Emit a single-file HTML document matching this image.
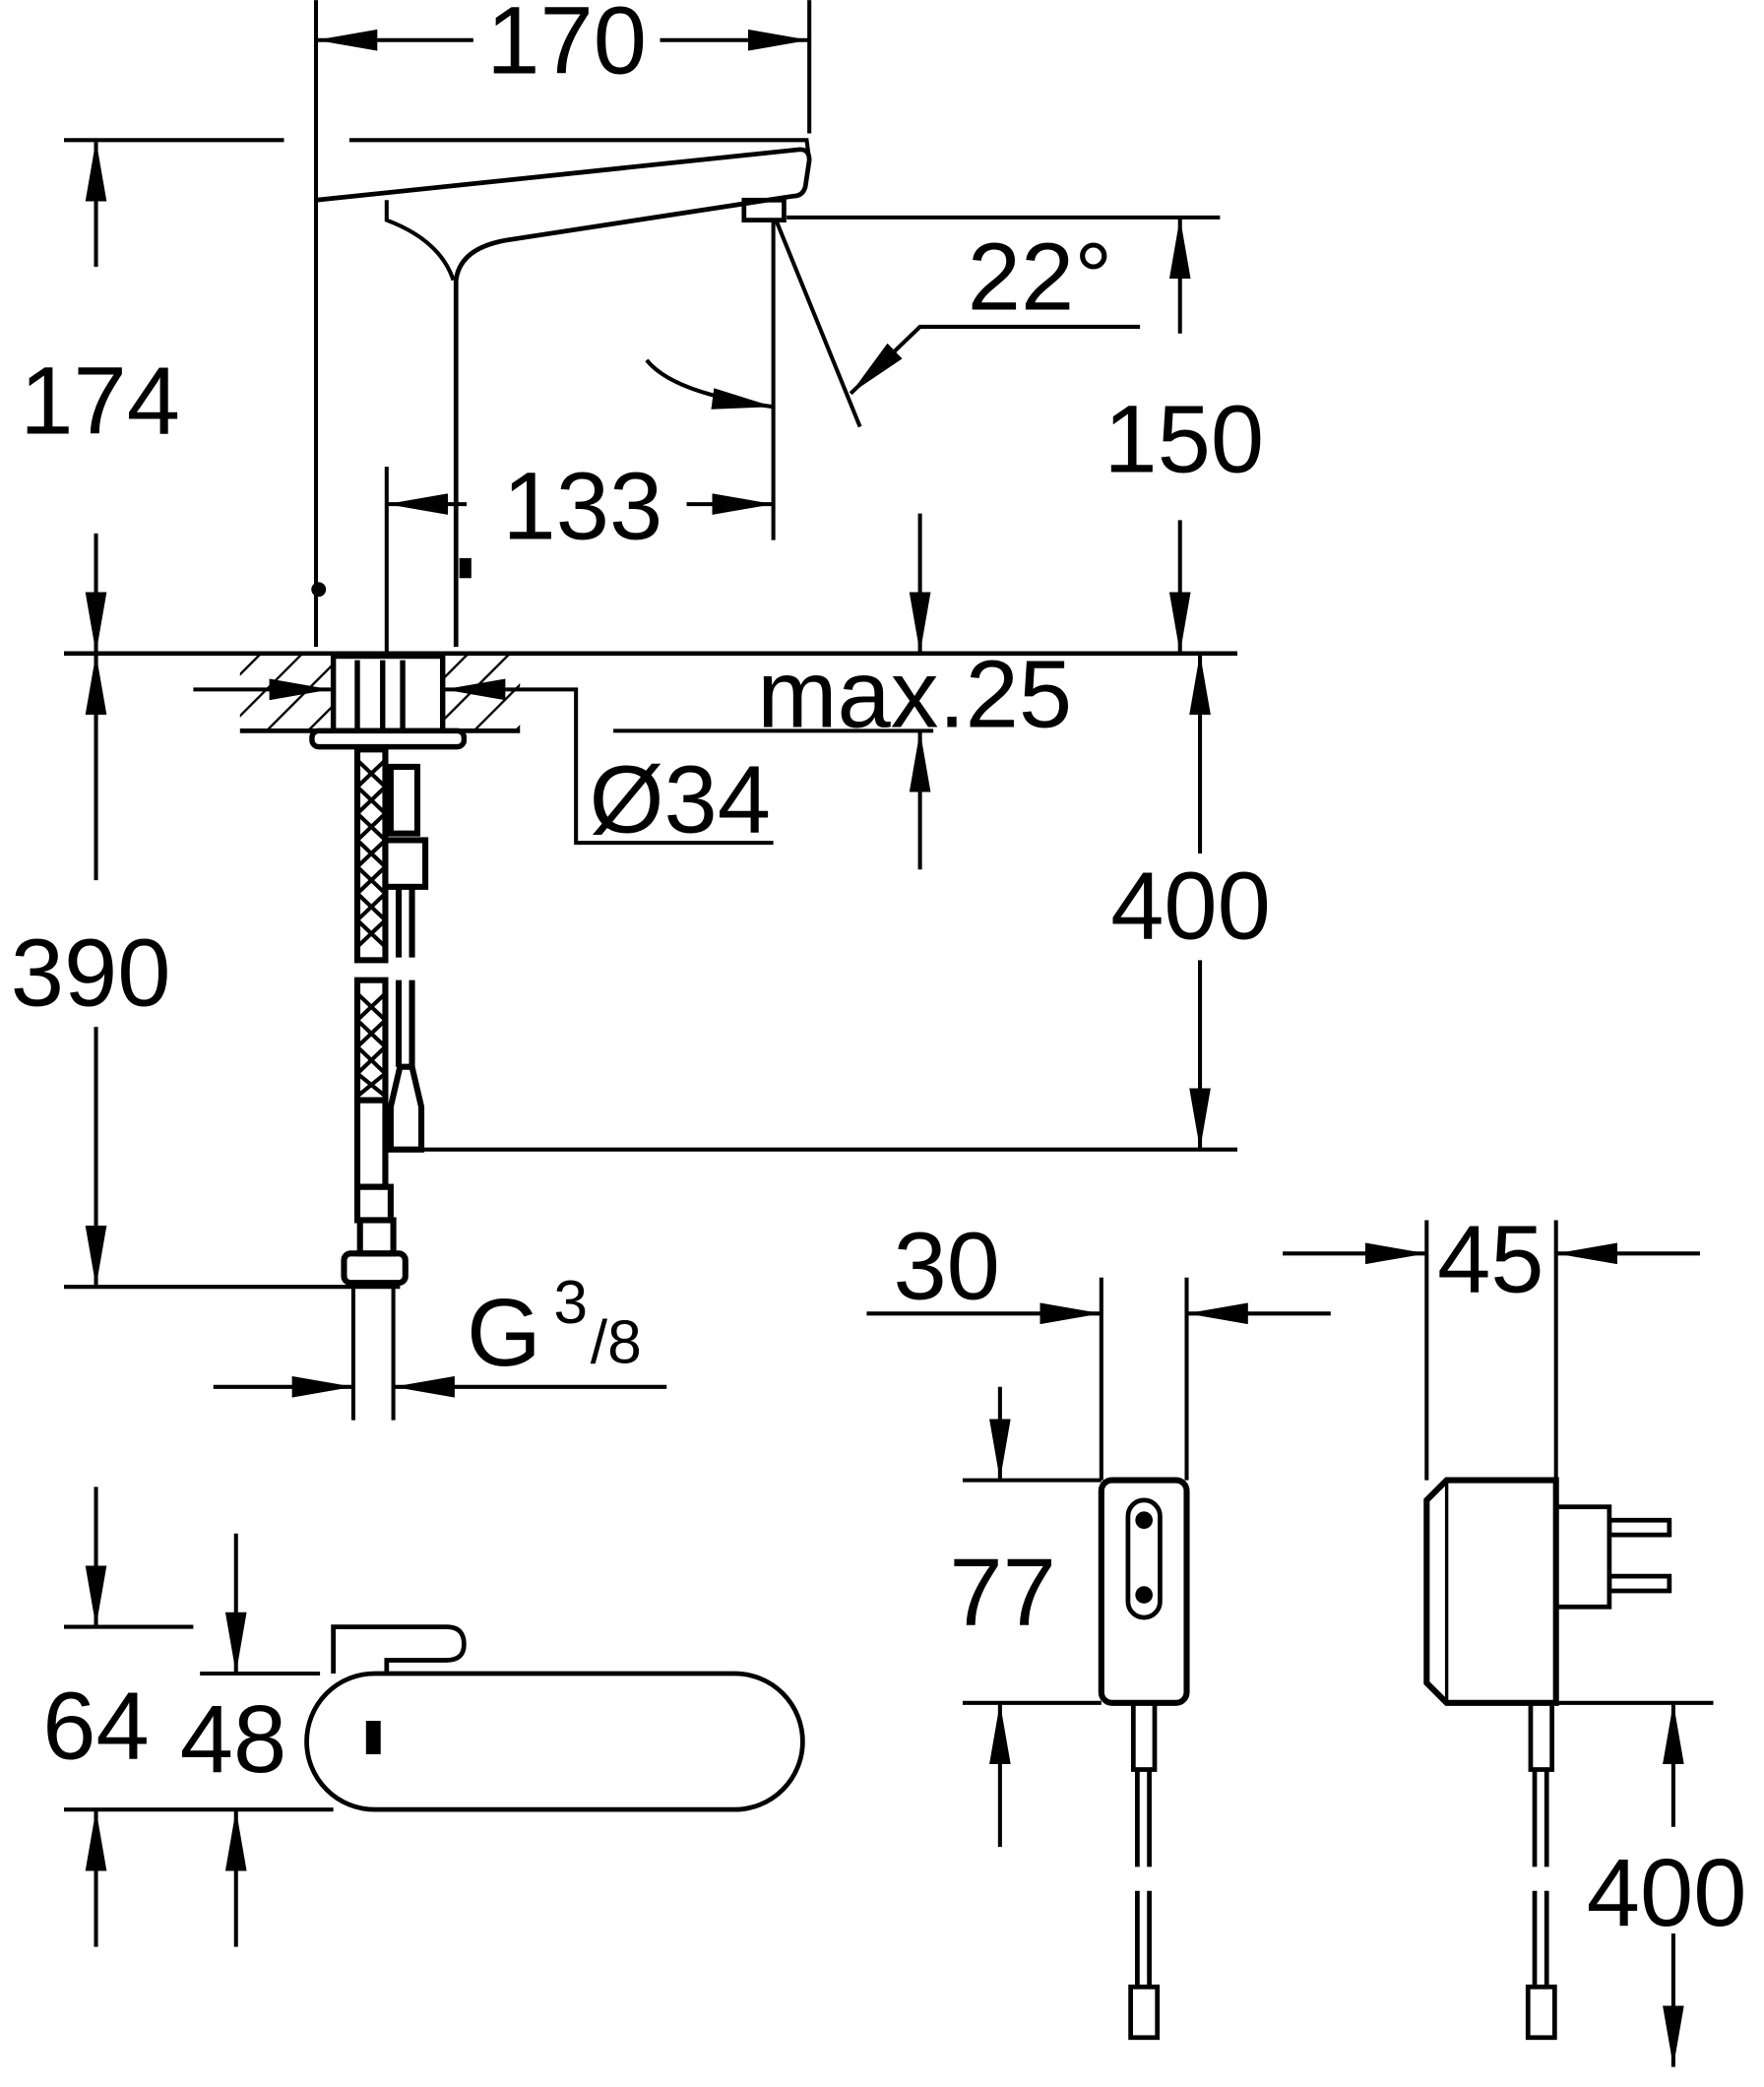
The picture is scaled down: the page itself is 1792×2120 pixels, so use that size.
<!DOCTYPE html>
<html><head><meta charset="utf-8"><style>html,body{margin:0;padding:0;background:#fff}svg{display:block}</style></head>
<body>
<svg width="1792" height="2120" viewBox="0 0 1323 1565" xmlns="http://www.w3.org/2000/svg">
<defs>
<marker id="a" markerUnits="userSpaceOnUse" markerWidth="46" markerHeight="16" refX="46" refY="8" orient="auto"><path d="M0,0 L46,8 L0,16 z" fill="#000"/></marker>
<pattern id="h" width="22" height="22" patternUnits="userSpaceOnUse" patternTransform="rotate(45)"><line x1="0" y1="0" x2="0" y2="22" stroke="#000" stroke-width="3.5"/></pattern>
</defs>
<g fill="none" stroke="#000" stroke-width="3" font-family="Liberation Sans, sans-serif">
<!-- 170 -->
<line x1="237" y1="0" x2="237" y2="485"/>
<line x1="607" y1="0" x2="607" y2="100"/>
<line x1="355" y1="30" x2="237" y2="30" marker-end="url(#a)"/>
<line x1="495" y1="30" x2="607" y2="30" marker-end="url(#a)"/>
<!-- faucet -->
<path d="M237,150 L600,112 Q607,112 607,120 L604,140 Q602,147 595,147 L380,180 Q345,186 342,210 L342,485" stroke-width="3.5"/>
<path d="M262,105 L605,105 L607,120"/>
<path d="M290,150 L290,165 Q330,180 340,210"/>
<rect x="558" y="150" width="30" height="15" stroke-width="3.5"/>
<rect x="346" y="420" width="6" height="12" fill="#000"/>
<circle cx="239" cy="442" r="4" fill="#000"/>
<!-- 174 -->
<line x1="48" y1="105" x2="213" y2="105"/>
<line x1="72" y1="200" x2="72" y2="105" marker-end="url(#a)"/>
<line x1="72" y1="400" x2="72" y2="490" marker-end="url(#a)"/>
<line x1="72" y1="490" x2="72" y2="540"/>
<!-- 22 deg -->
<line x1="580" y1="165" x2="580" y2="405"/>
<line x1="582" y1="165" x2="645" y2="320"/>
<path d="M855,245 L690,245 L638,295" marker-end="url(#a)"/>
<path d="M485,270 Q505,295 580,305" marker-end="url(#a)"/>
<!-- 150 -->
<line x1="590" y1="163" x2="915" y2="163"/>
<line x1="885" y1="250" x2="885" y2="163" marker-end="url(#a)"/>
<line x1="885" y1="390" x2="885" y2="490" marker-end="url(#a)"/>
<!-- 133 -->
<line x1="290" y1="350" x2="290" y2="490"/>
<line x1="350" y1="378" x2="290" y2="378" marker-end="url(#a)"/>
<line x1="515" y1="378" x2="580" y2="378" marker-end="url(#a)"/>
<!-- countertop -->
<line x1="48" y1="490" x2="928" y2="490" stroke-width="3.5"/>
<rect x="180" y="490" width="210" height="58" fill="url(#h)" stroke="none"/>
<line x1="180" y1="548" x2="390" y2="548" stroke-width="3.5"/>
<rect x="250" y="492" width="82" height="56" fill="#fff" stroke-width="4"/>
<line x1="268" y1="495" x2="268" y2="548" stroke-width="4"/>
<line x1="287" y1="495" x2="287" y2="548" stroke-width="4"/>
<line x1="302" y1="495" x2="302" y2="548" stroke-width="4"/>
<rect x="234" y="548" width="114" height="12" rx="5" fill="#fff" stroke-width="4"/>
<line x1="145" y1="517" x2="248" y2="517" marker-end="url(#a)"/>
<line x1="380" y1="517" x2="333" y2="517" marker-end="url(#a)"/>
<!-- max.25 -->
<line x1="690" y1="385" x2="690" y2="490" marker-end="url(#a)"/>
<line x1="690" y1="652" x2="690" y2="548" marker-end="url(#a)"/>
<line x1="460" y1="548" x2="700" y2="548"/>
<!-- O34 -->
<path d="M380,517 L432,517 L432,632 L580,632"/>
<!-- 400 -->
<line x1="900" y1="640" x2="900" y2="490" marker-end="url(#a)"/>
<line x1="900" y1="720" x2="900" y2="862" marker-end="url(#a)"/>
<line x1="310" y1="862" x2="928" y2="862"/>
<!-- 390 -->
<line x1="72" y1="660" x2="72" y2="490" marker-end="url(#a)"/>
<line x1="72" y1="770" x2="72" y2="965" marker-end="url(#a)"/>
<line x1="48" y1="965" x2="300" y2="965"/>
<!-- hoses -->
<g stroke-width="4.5">
<rect x="268" y="562" width="21" height="158"/>
<rect x="268" y="735" width="21" height="90"/>
<path d="M268,570 L289,590 L268,610 L289,630 L268,650 L289,670 L268,690 L289,710 M289,570 L268,590 L289,610 L268,630 L289,650 L268,670 L289,690 L268,710" stroke-width="3"/>
<path d="M268,745 L289,765 L268,785 L289,805 L268,822 M289,745 L268,765 L289,785 L268,805 L289,822" stroke-width="3"/>
<rect x="268" y="825" width="21" height="65"/>
<rect x="268" y="890" width="25" height="25"/>
<rect x="270" y="915" width="25" height="25"/>
<rect x="258" y="940" width="46" height="22" rx="5"/>
<rect x="293" y="575" width="20" height="50"/>
<rect x="289" y="630" width="30" height="35"/>
<line x1="299" y1="665" x2="299" y2="718"/>
<line x1="309" y1="665" x2="309" y2="718"/>
<line x1="299" y1="735" x2="299" y2="800"/>
<line x1="309" y1="735" x2="309" y2="800"/>
<path d="M300,800 L309,800 L316,830 L316,862 L293,862 L293,830 z"/>
</g>
<!-- G3/8 -->
<line x1="265" y1="965" x2="265" y2="1065"/>
<line x1="295" y1="965" x2="295" y2="1065"/>
<line x1="160" y1="1040" x2="265" y2="1040" marker-end="url(#a)"/>
<line x1="500" y1="1040" x2="295" y2="1040" marker-end="url(#a)"/>
<!-- top view -->
<rect x="230" y="1255" width="372" height="102" rx="51" stroke-width="3.5"/>
<path d="M250,1255 L250,1220 L335,1220 Q348,1220 348,1233 Q348,1245 335,1245 L290,1245 L290,1255" stroke-width="3.5"/>
<rect x="276" y="1292" width="8" height="22" fill="#000"/>
<line x1="48" y1="1220" x2="145" y2="1220"/>
<line x1="48" y1="1357" x2="250" y2="1357"/>
<line x1="72" y1="1115" x2="72" y2="1220" marker-end="url(#a)"/>
<line x1="72" y1="1460" x2="72" y2="1357" marker-end="url(#a)"/>
<line x1="150" y1="1255" x2="240" y2="1255"/>
<line x1="177" y1="1150" x2="177" y2="1255" marker-end="url(#a)"/>
<line x1="177" y1="1460" x2="177" y2="1357" marker-end="url(#a)"/>
<!-- power supply front -->
<rect x="826" y="1110" width="64" height="167" rx="8" stroke-width="4.5"/>
<rect x="846" y="1125" width="24" height="88" rx="12" stroke-width="3.5"/>
<circle cx="858" cy="1140" r="5" fill="#000"/>
<circle cx="858" cy="1196" r="5" fill="#000"/>
<rect x="850" y="1277" width="16" height="50" stroke-width="3.5"/>
<line x1="853" y1="1327" x2="853" y2="1400" stroke-width="3.5"/>
<line x1="862" y1="1327" x2="862" y2="1400" stroke-width="3.5"/>
<line x1="853" y1="1418" x2="853" y2="1490" stroke-width="3.5"/>
<line x1="862" y1="1418" x2="862" y2="1490" stroke-width="3.5"/>
<rect x="848" y="1490" width="20" height="38" stroke-width="3.5"/>
<line x1="826" y1="958" x2="826" y2="1110"/>
<line x1="890" y1="958" x2="890" y2="1110"/>
<line x1="650" y1="985" x2="826" y2="985" marker-end="url(#a)"/>
<line x1="998" y1="985" x2="890" y2="985" marker-end="url(#a)"/>
<line x1="722" y1="1110" x2="826" y2="1110"/>
<line x1="722" y1="1277" x2="826" y2="1277"/>
<line x1="750" y1="1040" x2="750" y2="1110" marker-end="url(#a)"/>
<line x1="750" y1="1385" x2="750" y2="1277" marker-end="url(#a)"/>
<!-- side view -->
<path d="M1070,1125 L1085,1110 L1167,1110 L1167,1277 L1085,1277 L1070,1262 z" stroke-width="4.5"/>
<line x1="1085" y1="1110" x2="1085" y2="1277" stroke-width="2.5"/>
<rect x="1167" y="1130" width="40" height="75" stroke-width="3.5"/>
<rect x="1207" y="1140" width="45" height="11" stroke-width="3.5"/>
<rect x="1207" y="1182" width="45" height="11" stroke-width="3.5"/>
<rect x="1148" y="1277" width="16" height="50" stroke-width="3.5"/>
<line x1="1151" y1="1327" x2="1151" y2="1400" stroke-width="3.5"/>
<line x1="1160" y1="1327" x2="1160" y2="1400" stroke-width="3.5"/>
<line x1="1151" y1="1418" x2="1151" y2="1490" stroke-width="3.5"/>
<line x1="1160" y1="1418" x2="1160" y2="1490" stroke-width="3.5"/>
<rect x="1146" y="1490" width="20" height="38" stroke-width="3.5"/>
<line x1="1070" y1="915" x2="1070" y2="1110"/>
<line x1="1167" y1="915" x2="1167" y2="1110"/>
<line x1="962" y1="940" x2="1070" y2="940" marker-end="url(#a)"/>
<line x1="1275" y1="940" x2="1167" y2="940" marker-end="url(#a)"/>
<line x1="1167" y1="1277" x2="1285" y2="1277"/>
<line x1="1255" y1="1370" x2="1255" y2="1277" marker-end="url(#a)"/>
<line x1="1255" y1="1450" x2="1255" y2="1550" marker-end="url(#a)"/>
</g>
<g font-family="Liberation Sans, sans-serif" font-size="72" text-anchor="middle" fill="#000">
<text x="425" y="55">170</text>
<text x="75" y="325">174</text>
<text x="780" y="232">22°</text>
<text x="888" y="354">150</text>
<text x="437" y="404">133</text>
<text x="686" y="545">max.25</text>
<text x="510" y="624">Ø34</text>
<text x="893" y="704">400</text>
<text x="68" y="754">390</text>
<text x="378" y="1024">G</text>
<text x="428" y="992" font-size="46">3</text>
<text x="462" y="1022" font-size="46">/8</text>
<text x="72" y="1319">64</text>
<text x="175" y="1329">48</text>
<text x="710" y="974">30</text>
<text x="752" y="1219">77</text>
<text x="1118" y="969">45</text>
<text x="1250" y="1444">400</text>
</g>
</svg>
</body></html>
